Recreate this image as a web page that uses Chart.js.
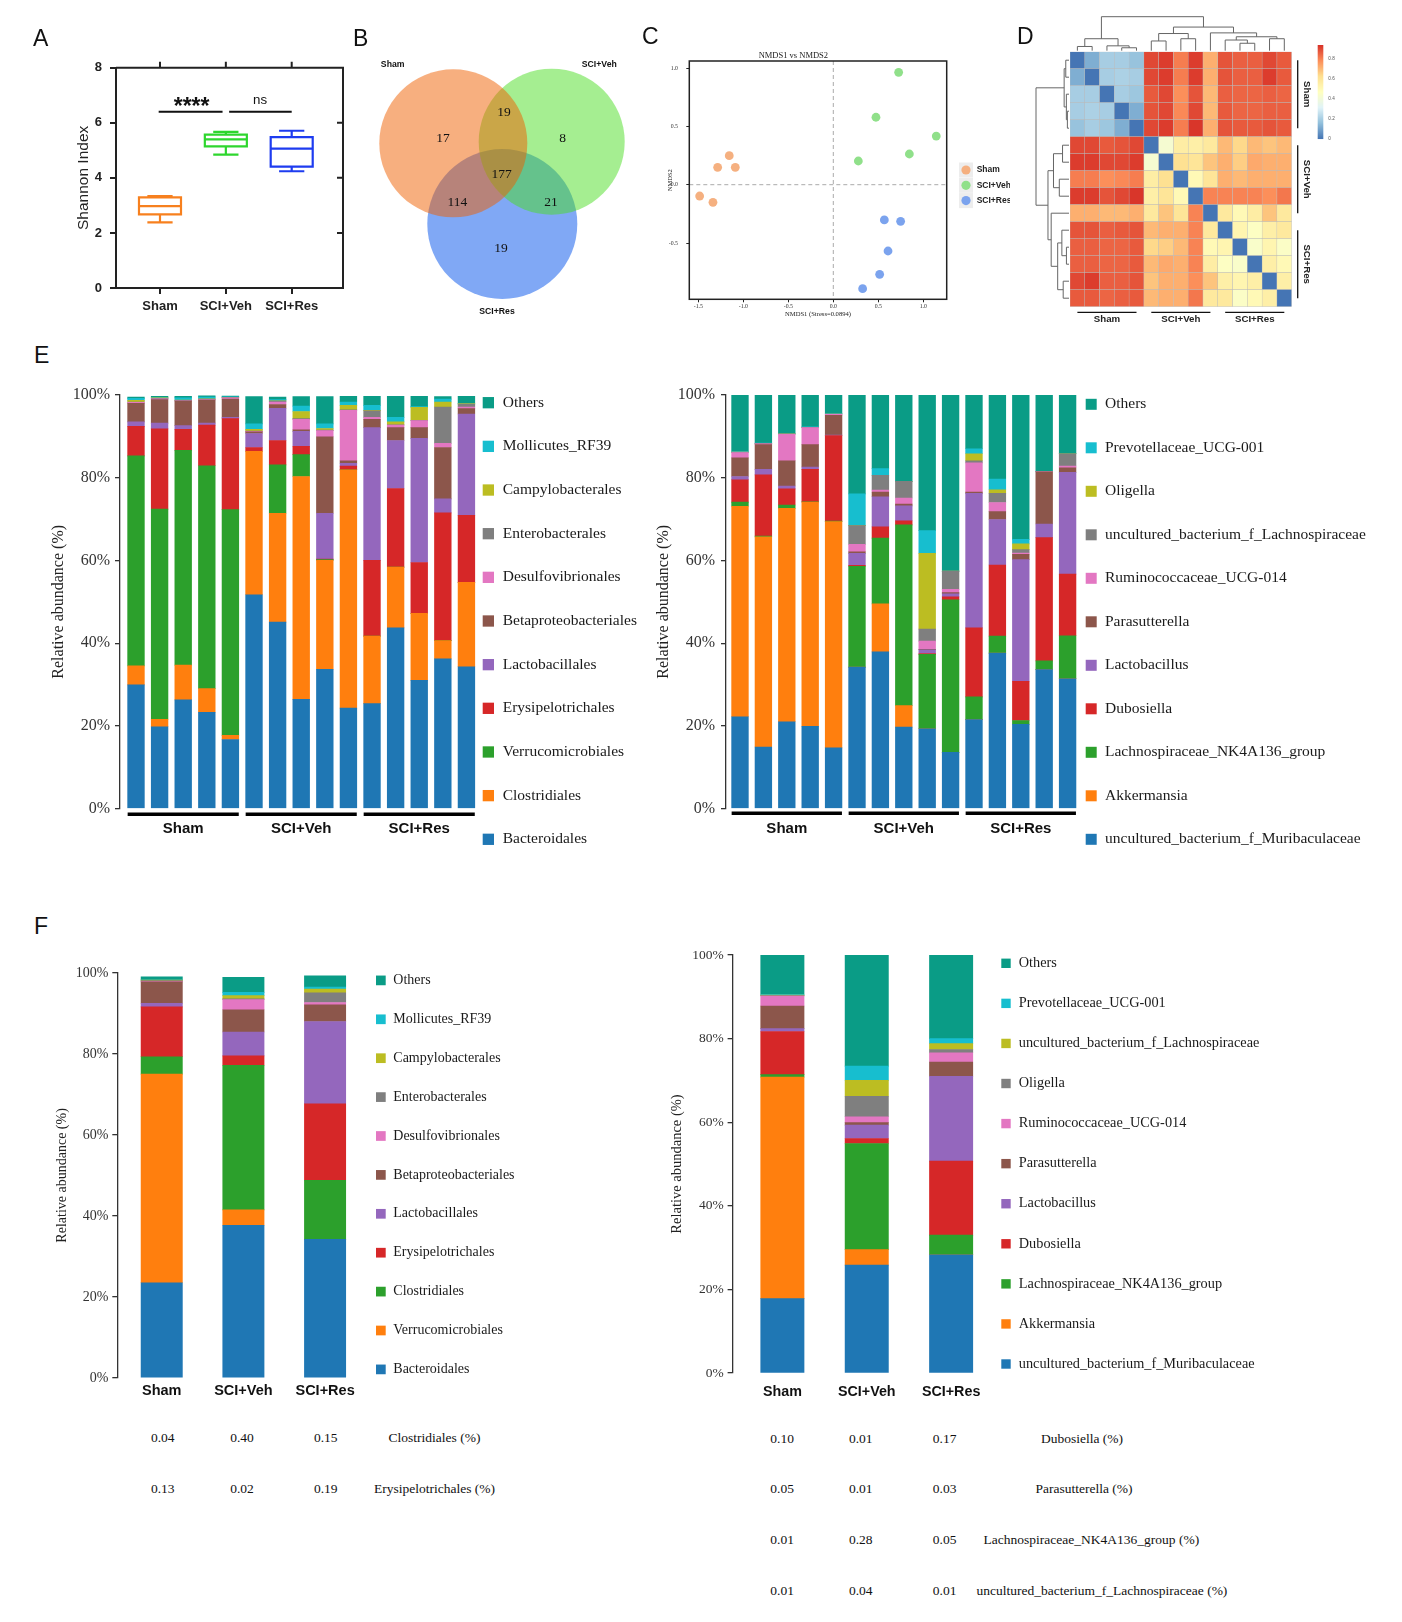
<!DOCTYPE html>
<html><head><meta charset="utf-8">
<script src="https://cdn.jsdelivr.net/npm/chart.js@4.4.1/dist/chart.umd.min.js"></script>
<style>
body{margin:0;background:#fff;}
#page{position:relative;width:1402px;height:1622px;overflow:hidden;background:#fff;}
canvas{position:absolute;}
.plab{position:absolute;font-family:'Liberation Sans',Arial,sans-serif;font-size:23px;line-height:23px;color:#111;}
.tx{position:absolute;font-family:'Liberation Serif','Times New Roman',serif;font-size:13.5px;color:#111;white-space:nowrap;transform:translate(-50%,-50%);}
</style></head>
<body><div id="page"></div>
<script>
// ================= DATA =================
// Panel A : Shannon index box plot
const groupsA = ['Sham','SCI+Veh','SCI+Res'];
const shannonMin    = [2.38, 4.84, 4.24];
const shannonQ1     = [2.67, 5.14, 4.41];
const shannonMedian = [2.97, 5.40, 5.06];
const shannonQ3     = [3.29, 5.57, 5.48];
const shannonMax    = [3.34, 5.67, 5.71];
const sigLabels = ['****','ns'];

// Panel B : Venn counts (Sham only, Veh only, Res only, Sham∩Veh, Sham∩Res, Veh∩Res, all three)
const vennSets = ['Sham','SCI+Veh','SCI+Res'];
const vennCounts = [17, 8, 19, 19, 114, 21, 177];

// Panel C : NMDS
const nmdsGroups = ['Sham','SCI+Veh','SCI+Res'];
const nmdsShamX = [-1.156, -1.285, -1.089, -1.485, -1.337];
const nmdsShamY = [0.249, 0.149, 0.149, -0.097, -0.151];
const nmdsVehX  = [0.726, 0.474, 1.144, 0.845, 0.278];
const nmdsVehY  = [0.963, 0.578, 0.417, 0.263, 0.203];
const nmdsResX  = [0.567, 0.748, 0.608, 0.515, 0.326];
const nmdsResY  = [-0.302, -0.314, -0.568, -0.768, -0.891];
const nmdsXTicks = [-1.5, -1.0, -0.5, 0.0, 0.5, 1.0];
const nmdsYTicks = [-0.5, 0.0, 0.5, 1.0];

// Panel D : sample distance heatmap
const sampleLabels = ['Sham1','Sham2','Sham3','Sham4','Sham5','Veh1','Veh2','Veh3','Veh4','Veh5','Res1','Res2','Res3','Res4','Res5'];
const distMatrix = [
 [0,.12,.2,.2,.17, .9,.92,.81,.92,.72, .88,.86,.86,.9,.87],
 [.12,0,.2,.21,.2, .9,.92,.81,.92,.72, .88,.86,.86,.92,.87],
 [.2,.2,0,.2,.18, .87,.9,.78,.88,.7, .86,.85,.85,.86,.85],
 [.2,.21,.2,0,.12, .88,.9,.79,.9,.7, .87,.85,.85,.86,.86],
 [.17,.2,.18,.12,0, .9,.92,.81,.93,.72, .88,.87,.87,.88,.87],
 [.9,.9,.87,.88,.9, 0,.42,.56,.55,.58, .7,.64,.7,.68,.7],
 [.92,.92,.9,.9,.92, .42,0,.62,.6,.68, .72,.66,.73,.72,.72],
 [.81,.81,.78,.79,.81, .56,.62,0,.5,.6, .72,.7,.72,.72,.72],
 [.92,.92,.88,.9,.93, .55,.6,.5,0,.8, .8,.8,.8,.78,.82],
 [.72,.72,.7,.7,.72, .58,.68,.6,.8,0, .58,.5,.56,.68,.58],
 [.88,.88,.86,.87,.88, .7,.72,.72,.8,.58, 0,.52,.46,.55,.58],
 [.86,.86,.85,.85,.87, .64,.66,.7,.8,.5, .52,0,.44,.52,.45],
 [.86,.86,.85,.85,.87, .7,.73,.72,.8,.56, .46,.44,0,.55,.5],
 [.9,.92,.86,.86,.88, .68,.72,.72,.78,.68, .55,.52,.55,0,.55],
 [.87,.87,.85,.86,.87, .7,.72,.72,.82,.58, .58,.45,.5,.55,0]
];
// dendrograms: [height, left, right], leaves = sample index
const colTree = [1.0,
  [0.352, [0.124, 0, 1], [0.143, 2, [0.086, 3, 4]]],
  [0.695, [0.505, [0.286, 5, 6], [0.352, 7, 8]],
          [0.524, 9, [0.41, [0.314, 10, [0.219, 11, 12]], [0.352, 13, 14]]]]];
const rowTree = [1.0,
  [0.147, [0.098, 0, 1], [0.08, 2, [0.049, 3, 4]]],
  [0.637, [0.47, [0.196, 5, 6], [0.294, 7, 8]],
          [0.54, 9, [0.343, [0.216, 10, [0.078, 11, 12]], [0.176, 13, 14]]]]];
const colorbarTicks = [0, 0.2, 0.4, 0.6, 0.8];
const sampleGroups = [{name:'Sham',from:0,to:4},{name:'SCI+Veh',from:5,to:9},{name:'SCI+Res',from:10,to:14}];

// Panel E left : order level, 15 samples
const orderNames = ['Bacteroidales','Clostridiales','Verrucomicrobiales','Erysipelotrichales','Lactobacillales','Betaproteobacteriales','Desulfovibrionales','Enterobacterales','Campylobacterales','Mollicutes_RF39','Others'];
const ordBacteroidales      = [29.9,19.8,26.3,23.3,16.7, 51.7,45.1,26.4,33.7,24.3, 25.4,43.7,31.0,36.2,34.3];
const ordClostridiales      = [4.6,1.8,8.4,5.7,1.0, 34.7,26.3,53.9,26.3,57.6, 16.3,14.7,16.2,4.4,20.4];
const ordVerrucomicrobiales = [50.8,50.8,51.9,53.9,54.6, 0,11.7,5.3,0.2,0, 0,0,0,0,0];
const ordErysipelotrichales = [7.1,19.4,5.1,9.8,22.0, 0.9,5.9,2.0,0.1,0.9, 18.3,19.0,12.3,30.9,16.2];
const ordLactobacillales    = [1.1,1.4,0.9,0.5,0.3, 3.4,7.8,3.6,11.1,0.7, 32.1,11.6,30.0,3.4,24.5];
const ordBetaproteobacteriales = [4.5,5.7,5.9,5.6,4.4, 0.4,0.9,0.4,18.5,0.6, 2.0,3.1,2.6,12.4,1.3];
const ordDesulfovibrionales = [0.2,0.2,0.1,0.1,0.3, 0.1,0.6,2.5,1.5,12.2, 0.5,0.6,1.7,1.0,0.4];
const ordEnterobacterales   = [0.1,0.1,0.1,0.1,0.05, 0.1,0.2,0.2,0.1,0.1, 1.6,0.1,0.1,8.8,0.7];
const ordCampylobacterales  = [0.4,0.1,0.1,0.1,0.1, 0.4,0.1,1.7,0.4,1.1, 0.1,0.7,3.1,1.2,0.1];
const ordMollicutes         = [0.5,0.1,0.5,0.4,0.1, 1.3,0.3,1.3,1.1,0.8, 1.2,1.1,0.2,0.7,0.1];
const ordOthers             = [0.3,0.3,0.4,0.3,0.2, 6.6,0.6,2.3,6.6,1.4, 2.2,5.1,2.5,0.6,1.7];

// Panel E right : genus level, 15 samples
const genusNames = ['uncultured_bacterium_f_Muribaculaceae','Akkermansia','Lachnospiraceae_NK4A136_group','Dubosiella','Lactobacillus','Parasutterella','Ruminococcaceae_UCG-014','uncultured_bacterium_f_Lachnospiraceae','Oligella','Prevotellaceae_UCG-001','Others'];
const genMuribaculaceae = [22.2,14.9,21.0,19.9,14.7, 34.2,37.9,19.7,19.3,13.6, 21.5,37.6,20.4,33.6,31.4];
const genAkkermansia    = [50.9,50.8,51.6,54.2,54.7, 0,11.6,5.2,0,0, 0,0,0,0,0];
const genNK4A136        = [1.0,0.2,0.8,0.1,0.1, 24.4,15.9,43.7,18.0,36.9, 5.5,4.1,0.9,2.1,10.4];
const genDubosiella     = [5.4,14.8,3.9,7.8,20.7, 0.2,2.7,1.0,0.2,0.7, 16.7,17.2,9.5,29.8,14.9];
const genLactobacillus  = [0.8,1.3,0.7,0.6,0.1, 2.9,7.3,3.6,0.9,0.7, 32.5,11.0,29.4,3.3,24.6];
const genParasutterella = [4.5,6.0,6.1,5.4,4.8, 0.4,1.1,0.4,0.1,0.3, 0.3,1.9,1.3,12.6,1.1];
const genRuminococcaceae= [1.3,0.2,6.4,4.1,0.2, 1.8,0.5,1.5,2.0,0.8, 7.1,2.2,0.3,0.1,0.4];
const genUncLachno      = [0.1,0.1,0.1,0.1,0.1, 4.5,3.6,4.0,2.9,4.4, 0.5,2.2,0.8,0,3.0];
const genOligella       = [0,0,0,0,0, 0,0,0,18.3,0, 1.7,0.9,1.4,0,0];
const genPrevotellaceae = [0.2,0.1,0.1,0.1,0.1, 7.7,1.6,0,5.5,0, 1.2,2.6,1.1,0,0];
const genOthers         = [13.6,11.6,9.3,7.7,4.5, 23.9,17.8,20.9,32.8,42.6, 13.0,20.3,34.9,18.5,14.2];

// Panel F left : order level, group means
const fOrderNames = ['Bacteroidales','Verrucomicrobiales','Clostridiales','Erysipelotrichales','Lactobacillales','Betaproteobacteriales','Desulfovibrionales','Enterobacterales','Campylobacterales','Mollicutes_RF39','Others'];
const grpBacteroidales = [23.5, 37.7, 34.2];
const grpVerruco       = [51.5, 3.8, 0];
const grpClostridiales = [4.3, 35.7, 14.6];
const grpErysip        = [12.3, 2.3, 18.9];
const grpLacto         = [0.9, 5.9, 20.3];
const grpBeta          = [5.3, 5.5, 4.1];
const grpDesulfo       = [0.1, 2.5, 0.6];
const grpEntero        = [0.2, 0.2, 2.4];
const grpCampylo       = [0.1, 0.8, 0.9];
const grpMollicutes    = [0.1, 0.8, 0.5];
const grpOrdOthers     = [0.7, 3.7, 2.8];

// Panel F right : genus level, group means
const fGenusNames = ['uncultured_bacterium_f_Muribaculaceae','Akkermansia','Lachnospiraceae_NK4A136_group','Dubosiella','Lactobacillus','Parasutterella','Ruminococcaceae_UCG-014','Oligella','uncultured_bacterium_f_Lachnospiraceae','Prevotellaceae_UCG-001','Others'];
const grpMuri      = [17.8, 25.8, 28.3];
const grpAkk       = [53.0, 3.7, 0];
const grpNK        = [0.6, 25.4, 4.7];
const grpDubo      = [10.3, 1.2, 17.7];
const grpLactobac  = [0.7, 3.2, 20.3];
const grpPara      = [5.4, 0.6, 3.4];
const grpRumino    = [2.4, 1.4, 2.2];
const grpOligella  = [0.1, 4.9, 0.8];
const grpUncLachno = [0.1, 3.8, 1.4];
const grpPrevo     = [0.2, 3.4, 1.2];
const grpGenOthers = [9.4, 26.6, 20.0];

// tables under F
const tableLeftLabels  = ['Clostridiales (%)','Erysipelotrichales (%)'];
const tableLeftValues  = [['0.04','0.40','0.15'],['0.13','0.02','0.19']];
const tableRightLabels = ['Dubosiella (%)','Parasutterella (%)','Lachnospiraceae_NK4A136_group (%)','uncultured_bacterium_f_Lachnospiraceae (%)'];
const tableRightValues = [['0.10','0.01','0.17'],['0.05','0.01','0.03'],['0.01','0.28','0.05'],['0.01','0.04','0.01']];

// ================= STYLE =================
const SANS = "'Liberation Sans', Arial, sans-serif";
const SERIF = "'Liberation Serif', 'Times New Roman', serif";
const C10 = ['#1F77B4','#FF7F0E','#2CA02C','#D62728','#9467BD','#8C564B','#E377C2','#7F7F7F','#BCBD22','#17BECF','#0A9C86'];
const boxColorsA = ['#F7801E','#2ED62E','#1E3CF0'];
const vennColors = ['rgba(239,95,0,0.5)','rgba(75,221,35,0.5)','rgba(1,81,235,0.5)'];
const nmdsColors = ['#F5B080','#90E08A','#7BA3EE'];
const heatStops = ['#4575B4','#91BFDB','#E0F3F8','#FFFFBF','#FEE090','#FC8D59','#D73027'];
const heatMax = 0.94;

Chart.defaults.animation = false;
Chart.defaults.responsive = false;
Chart.defaults.maintainAspectRatio = false;
Chart.defaults.devicePixelRatio = 1;
Chart.defaults.events = [];
Chart.defaults.plugins.legend.display = false;
Chart.defaults.plugins.tooltip.enabled = false;
Chart.defaults.font.family = SANS;

const page = document.getElementById('page');
function addCanvas(left, top, w, h) {
  const c = document.createElement('canvas');
  c.width = w; c.height = h;
  c.style.left = left + 'px'; c.style.top = top + 'px';
  c.style.width = w + 'px'; c.style.height = h + 'px';
  page.appendChild(c);
  return c;
}
function addDiv(cls, text, x, y) {
  const d = document.createElement('div');
  d.className = cls; d.textContent = text;
  d.style.left = x + 'px'; d.style.top = y + 'px';
  page.appendChild(d);
  return d;
}

// ================= PANEL A =================
function boxSegments(i) {
  const w = 0.319, c = 0.175, g = [];
  const seg = pts => { pts.forEach(p => g.push(p)); g.push({x: i, y: null}); };
  const q1 = shannonQ1[i], q3 = shannonQ3[i], md = shannonMedian[i];
  seg([{x:i-w,y:q1},{x:i+w,y:q1},{x:i+w,y:q3},{x:i-w,y:q3},{x:i-w,y:q1}]);
  seg([{x:i-w,y:md},{x:i+w,y:md}]);
  seg([{x:i,y:q3},{x:i,y:shannonMax[i]}]);
  seg([{x:i-c,y:shannonMax[i]},{x:i+c,y:shannonMax[i]}]);
  seg([{x:i,y:q1},{x:i,y:shannonMin[i]}]);
  seg([{x:i-c,y:shannonMin[i]},{x:i+c,y:shannonMin[i]}]);
  return g;
}
const sigY = 6.4;
const sigSpans = [[-0.02, 0.95], [1.05, 2.0]];
const sigLabelX = [0.48, 1.52];
const sigLineData = [];
sigSpans.forEach(s => { sigLineData.push({x:s[0],y:sigY},{x:s[1],y:sigY},{x:s[1],y:null}); });

const panelAPlugin = {
  id: 'panelA',
  afterDraw(ch) {
    const {ctx, chartArea: a, scales: {x, y}} = ch;
    ctx.save();
    ctx.strokeStyle = '#222'; ctx.lineWidth = 2;
    ctx.beginPath();
    ctx.moveTo(a.left, a.top); ctx.lineTo(a.right, a.top); ctx.lineTo(a.right, a.bottom);
    groupsA.forEach((g, i) => { const px = x.getPixelForValue(i); ctx.moveTo(px, a.top); ctx.lineTo(px, a.top - 6); });
    [2, 4, 6].forEach(v => { const py = y.getPixelForValue(v); ctx.moveTo(a.right, py); ctx.lineTo(a.right - 6, py); });
    ctx.stroke();
    const ly = y.getPixelForValue(sigY);
    ctx.fillStyle = '#111'; ctx.textAlign = 'center'; ctx.textBaseline = 'alphabetic';
    ctx.font = `bold 23px ${SANS}`;
    ctx.fillText(sigLabels[0], x.getPixelForValue(sigLabelX[0]), ly + 2);
    ctx.font = `13.3px ${SANS}`;
    ctx.fillText(sigLabels[1], x.getPixelForValue(sigLabelX[1]), ly - 7.7);
    ctx.restore();
  }
};
new Chart(addCanvas(30, 40, 330, 290), {
  type: 'scatter',
  data: { datasets: [
    ...groupsA.map((g, i) => ({ label: g, data: boxSegments(i), showLine: true, spanGaps: false,
      borderColor: boxColorsA[i], borderWidth: 2.2, pointRadius: 0, borderCapStyle: 'square', borderJoinStyle: 'miter', tension: 0 })),
    { label: 'sig', data: sigLineData, showLine: true, spanGaps: false, borderColor: '#111', borderWidth: 2, pointRadius: 0 }
  ]},
  options: {
    layout: { padding: { left: 0, top: 27.7, right: 17, bottom: 0 } },
    scales: {
      x: { type: 'linear', min: -0.668, max: 2.779,
        afterBuildTicks: s => { s.ticks = groupsA.map((_, i) => ({ value: i })); },
        afterFit: s => { s.height = 42; },
        ticks: { callback: v => groupsA[v], autoSkip: false, maxRotation: 0, font: { family: SANS, size: 13, weight: 'bold' }, color: '#222', padding: 4.9 },
        grid: { drawOnChartArea: false, tickLength: 6, color: '#222', lineWidth: 2 },
        border: { color: '#222', width: 2 } },
      y: { min: 0, max: 8,
        afterFit: s => { s.width = 86; },
        ticks: { stepSize: 2, font: { family: SANS, size: 13, weight: 'bold' }, color: '#222', padding: 8 },
        grid: { drawOnChartArea: false, tickLength: 6, color: '#222', lineWidth: 2 },
        border: { color: '#222', width: 2 },
        title: { display: true, text: 'Shannon Index', font: { family: SANS, size: 15.5 }, color: '#222', padding: { top: 44.7, bottom: 0 } } }
    }
  },
  plugins: [panelAPlugin]
});

// ================= PANEL B (Venn) =================
const vennCircles = [{x:103.3,y:103.3,r:74},{x:201.7,y:101.7,r:73},{x:152.3,y:184,r:75}];
const vennCountPos = [[93,98],[212.7,98],[151,208.3],[154,72.7],[107.3,162.7],[201,162.7],[151.7,134]];
const vennSetPos = [[42.7,24.3],[249.3,24.3],[147,271.7]];
const vennPlugin = {
  id: 'venn',
  afterDatasetsDraw(ch) {
    const {ctx, scales: {x, y}} = ch;
    ctx.save();
    ctx.fillStyle = '#111'; ctx.textAlign = 'center'; ctx.textBaseline = 'middle';
    ctx.font = `13.5px ${SERIF}`;
    vennCounts.forEach((c, k) => ctx.fillText(String(c), x.getPixelForValue(vennCountPos[k][0]), y.getPixelForValue(vennCountPos[k][1])));
    ctx.font = `bold 8.7px ${SANS}`;
    vennSets.forEach((s, k) => ctx.fillText(s, x.getPixelForValue(vennSetPos[k][0]), y.getPixelForValue(vennSetPos[k][1])));
    ctx.restore();
  }
};
new Chart(addCanvas(350, 40, 300, 290), {
  type: 'bubble',
  data: { datasets: vennSets.map((s, i) => ({ label: s, data: [vennCircles[i]], backgroundColor: vennColors[i], borderWidth: 0, clip: false })) },
  options: {
    layout: { padding: 0, autoPadding: false },
    scales: { x: { type: 'linear', min: 0, max: 300, display: false }, y: { type: 'linear', min: 0, max: 290, reverse: true, display: false } }
  },
  plugins: [vennPlugin]
});

// ================= PANEL C (NMDS) =================
const nmdsX = [nmdsShamX, nmdsVehX, nmdsResX];
const nmdsY = [nmdsShamY, nmdsVehY, nmdsResY];
const nmdsPlugin = {
  id: 'nmds',
  beforeDatasetsDraw(ch) {
    const {ctx, chartArea: a, scales: {x, y}} = ch;
    ctx.save();
    ctx.strokeStyle = '#AAAAAA'; ctx.lineWidth = 1; ctx.setLineDash([4, 3]);
    const x0 = x.getPixelForValue(0), y0 = y.getPixelForValue(0);
    ctx.beginPath(); ctx.moveTo(x0, a.top); ctx.lineTo(x0, a.bottom); ctx.moveTo(a.left, y0); ctx.lineTo(a.right, y0); ctx.stroke();
    ctx.restore();
  },
  afterDraw(ch) {
    const {ctx, chartArea: a} = ch;
    ctx.save();
    ctx.strokeStyle = '#222'; ctx.lineWidth = 1.5;
    ctx.strokeRect(a.left, a.top, a.right - a.left, a.bottom - a.top);
    nmdsGroups.forEach((g, k) => {
      const cx = a.right + 19.3, cy = a.top + 109 + k * 15.3;
      ctx.fillStyle = '#EDEDED'; ctx.fillRect(cx - 7, cy - 7.5, 14, 15);
      ctx.fillStyle = nmdsColors[k]; ctx.beginPath(); ctx.arc(cx, cy, 4.6, 0, Math.PI * 2); ctx.fill();
      ctx.fillStyle = '#222'; ctx.font = `bold 8.5px ${SANS}`; ctx.textAlign = 'left'; ctx.textBaseline = 'middle';
      ctx.fillText(g, a.right + 30, cy);
    });
    ctx.restore();
  }
};
new Chart(addCanvas(640, 40, 370, 290), {
  type: 'scatter',
  data: { datasets: nmdsGroups.map((g, k) => ({ label: g, data: nmdsX[k].map((v, i) => ({ x: v, y: nmdsY[k][i] })), backgroundColor: nmdsColors[k], borderWidth: 0, pointRadius: 4.4 })) },
  options: {
    layout: { padding: { left: 0, top: 0, right: 63.3, bottom: 0 } },
    plugins: { title: { display: true, text: 'NMDS1 vs NMDS2', font: { family: SERIF, size: 8.5, weight: 'normal' }, color: '#222', padding: { top: 10.8, bottom: 0 } } },
    scales: {
      x: { type: 'linear', min: -1.6, max: 1.26,
        afterBuildTicks: s => { s.ticks = nmdsXTicks.map(v => ({ value: v })); },
        afterFit: s => { s.height = 30.7; },
        ticks: { callback: v => v.toFixed(1), font: { family: SERIF, size: 5.8 }, color: '#333', padding: 0.5, autoSkip: false, maxRotation: 0 },
        grid: { drawOnChartArea: false, tickLength: 3, color: '#222', lineWidth: 1 },
        border: { display: false },
        title: { display: true, text: 'NMDS1 (Stress=0.0894)', font: { family: SERIF, size: 6.6 }, color: '#222', padding: { top: 0, bottom: 12 } } },
      y: { type: 'linear', min: -0.982, max: 1.06,
        afterBuildTicks: s => { s.ticks = nmdsYTicks.map(v => ({ value: v })); },
        afterFit: s => { s.width = 49.3; },
        ticks: { callback: v => v.toFixed(1), font: { family: SERIF, size: 5.8 }, color: '#333', padding: 8.3, autoSkip: false },
        grid: { drawOnChartArea: false, tickLength: 3, color: '#222', lineWidth: 1 },
        border: { display: false },
        title: { display: true, text: 'NMDS2', font: { family: SERIF, size: 6.5 }, color: '#222', padding: { top: 26.1, bottom: 0 } } }
    }
  },
  plugins: [nmdsPlugin]
});

// ================= PANEL D (heatmap) =================
const heatRgb = heatStops.map(h => [parseInt(h.slice(1,3),16), parseInt(h.slice(3,5),16), parseInt(h.slice(5,7),16)]);
function heatColor(v) {
  const t = Math.max(0, Math.min(1, v / heatMax)) * (heatRgb.length - 1);
  const i = Math.min(Math.floor(t), heatRgb.length - 2), f = t - i;
  const c = heatRgb[i].map((c0, j) => Math.round(c0 + (heatRgb[i + 1][j] - c0) * f));
  return `rgb(${c[0]},${c[1]},${c[2]})`;
}
const N = sampleLabels.length;
const heatPlugin = {
  id: 'heatExtras',
  afterDraw(ch) {
    const {ctx, chartArea: a, scales: {x, y}} = ch;
    const colPos = i => x.getPixelForValue(i);
    const rowPos = i => y.getPixelForValue(N - i - 0.5);
    ctx.save();
    ctx.strokeStyle = '#666'; ctx.lineWidth = 1;
    function tree(node, orient) {
      if (typeof node === 'number') return { p: orient === 'top' ? colPos(node) : rowPos(node), h: 0 };
      const [hh, l, r] = node;
      const A = tree(l, orient), B = tree(r, orient);
      ctx.beginPath();
      if (orient === 'top') {
        const f = v => a.top - 1 - v * 34;
        ctx.moveTo(A.p, f(A.h)); ctx.lineTo(A.p, f(hh)); ctx.lineTo(B.p, f(hh)); ctx.lineTo(B.p, f(B.h));
      } else {
        const f = v => a.left - 1 - v * 33;
        ctx.moveTo(f(A.h), A.p); ctx.lineTo(f(hh), A.p); ctx.lineTo(f(hh), B.p); ctx.lineTo(f(B.h), B.p);
      }
      ctx.stroke();
      return { p: (A.p + B.p) / 2, h: hh };
    }
    tree(colTree, 'top'); tree(rowTree, 'left');
    // group annotations
    ctx.strokeStyle = '#111'; ctx.lineWidth = 1.3; ctx.fillStyle = '#222';
    ctx.font = `bold 9.7px ${SANS}`; ctx.textAlign = 'center'; ctx.textBaseline = 'middle';
    sampleGroups.forEach(g => {
      const x1 = colPos(g.from), x2 = colPos(g.to), ly = a.bottom + 5.6;
      ctx.beginPath(); ctx.moveTo(x1, ly); ctx.lineTo(x2, ly); ctx.stroke();
      ctx.fillText(g.name, (x1 + x2) / 2, a.bottom + 12.8);
      const y1 = rowPos(g.from), y2 = rowPos(g.to), lx = a.right + 6;
      ctx.beginPath(); ctx.moveTo(lx, y1); ctx.lineTo(lx, y2); ctx.stroke();
      ctx.save(); ctx.translate(a.right + 14.5, (y1 + y2) / 2); ctx.rotate(Math.PI / 2);
      ctx.fillText(g.name, 0, 0); ctx.restore();
    });
    // colour bar
    const cbX = a.right + 26, cbW = 5.6, cbTop = 45, cbBot = 139;
    for (let py = cbTop; py < cbBot; py++) {
      ctx.fillStyle = heatColor((cbBot - py - 0.5) / (cbBot - cbTop) * heatMax);
      ctx.fillRect(cbX, py, cbW, 1.05);
    }
    ctx.fillStyle = '#555'; ctx.font = `4.6px ${SANS}`; ctx.textAlign = 'left';
    colorbarTicks.forEach(v => ctx.fillText(String(v), cbX + cbW + 5, cbBot - v / heatMax * (cbBot - cbTop)));
    ctx.restore();
  }
};
const heatDatasets = [];
for (let r = N - 1; r >= 0; r--) {
  heatDatasets.push({ label: sampleLabels[r], data: distMatrix[r].map(() => 1), backgroundColor: distMatrix[r].map(heatColor),
    borderColor: 'rgba(185,185,185,0.9)', borderWidth: 0.5, borderSkipped: false, barPercentage: 1, categoryPercentage: 1, stack: 'hm' });
}
new Chart(addCanvas(1000, 0, 402, 330), {
  type: 'bar',
  data: { labels: sampleLabels, datasets: heatDatasets },
  options: {
    layout: { padding: { left: 70, right: 110.3, top: 51.7, bottom: 23.3 } },
    scales: { x: { stacked: true, display: false }, y: { stacked: true, min: 0, max: N, display: false } }
  },
  plugins: [heatPlugin]
});

// ================= PANELS E & F (stacked bars) =================
function stackedChart(spec) {
  const { left, top, w, h, area, xMin, xMax, barThickness, names, colors, series, tickSize, titleSize, titlePad, tickPad, tickLen, xLabels, xLabelSize, xLabelPad, legend, groups } = spec;
  const datasets = series.map((vals, k) => ({
    label: names[k], data: vals.map((v, i) => ({ x: i, y: v })), backgroundColor: colors[k], borderWidth: 0, barThickness: barThickness, stack: 's'
  }));
  const extras = {
    id: 'legendGroups',
    afterDraw(ch) {
      const { ctx, chartArea: a, scales: { x } } = ch;
      ctx.save();
      ctx.font = `${legend.size}px ${SERIF}`; ctx.textBaseline = 'middle'; ctx.textAlign = 'left';
      for (let k = names.length - 1, row = 0; k >= 0; k--, row++) {
        const yy = a.top + legend.first + row * legend.gap, bx = a.right + legend.dx;
        ctx.fillStyle = colors[k]; ctx.fillRect(bx, yy - legend.box / 2, legend.box, legend.box);
        ctx.fillStyle = '#1a1a1a'; ctx.fillText(names[k], bx + legend.textDx, yy);
      }
      if (groups) {
        ctx.strokeStyle = '#000'; ctx.lineWidth = 3.4; ctx.fillStyle = '#111';
        ctx.font = `bold 15px ${SANS}`; ctx.textAlign = 'center';
        groups.forEach(g => {
          const x1 = x.getPixelForValue(g.from) - barThickness / 2, x2 = x.getPixelForValue(g.to) + barThickness / 2;
          const ly = a.bottom + spec.groupLineDy;
          ctx.beginPath(); ctx.moveTo(x1, ly); ctx.lineTo(x2, ly); ctx.stroke();
          ctx.fillText(g.name, (x1 + x2) / 2, a.bottom + spec.groupTextDy);
        });
      }
      ctx.restore();
    }
  };
  new Chart(addCanvas(left, top, w, h), {
    type: 'bar',
    data: { datasets },
    options: {
      layout: { padding: { left: 0, top: area.top, right: w - area.right, bottom: xLabels ? 0 : h - area.bottom } },
      scales: {
        x: { type: 'linear', min: xMin, max: xMax, offset: false, stacked: true, display: !!xLabels,
          afterBuildTicks: s => { s.ticks = series[0].map((_, i) => ({ value: i })); },
          afterFit: s => { s.height = h - area.bottom; },
          ticks: { callback: v => (xLabels ? xLabels[v] : ''), autoSkip: false, maxRotation: 0, font: { family: SANS, size: xLabelSize || 14, weight: 'bold' }, color: '#111', padding: xLabelPad || 0 },
          grid: { display: false, drawTicks: false, offset: false }, border: { display: false } },
        y: { stacked: true, min: 0, max: 100,
          afterFit: s => { s.width = area.left; },
          ticks: { stepSize: 20, callback: v => v + '%', font: { family: SERIF, size: tickSize }, color: '#333', padding: tickPad },
          grid: { drawOnChartArea: false, tickLength: tickLen, color: '#333', lineWidth: 1.3 },
          border: { display: true, color: '#333', width: 1.3 },
          title: { display: true, text: 'Relative abundance (%)', font: { family: SERIF, size: titleSize }, color: '#222', padding: { top: titlePad, bottom: 0 } } }
      }
    },
    plugins: [extras]
  });
}

stackedChart({
  left: 40, top: 370, w: 620, h: 520, area: { left: 80, top: 25, right: 438, bottom: 479.3 },
  xMin: -0.678, xMax: 14.49, barThickness: 16.7,
  names: orderNames, colors: C10,
  series: [ordBacteroidales, ordClostridiales, ordVerrucomicrobiales, ordErysipelotrichales, ordLactobacillales, ordBetaproteobacteriales, ordDesulfovibrionales, ordEnterobacterales, ordCampylobacterales, ordMollicutes, ordOthers],
  tickSize: 16, titleSize: 16, titlePad: 8.7, tickPad: 5, tickLen: 5,
  legend: { dx: 4.7, first: 7.7, gap: 43.66, box: 11.3, textDx: 20, size: 15.5 },
  groups: sampleGroups, groupLineDy: 5.7, groupTextDy: 20
});
stackedChart({
  left: 640, top: 370, w: 762, h: 520, area: { left: 86, top: 25, right: 440, bottom: 479.3 },
  xMin: -0.598, xMax: 14.53, barThickness: 16.7,
  names: genusNames, colors: C10,
  series: [genMuribaculaceae, genAkkermansia, genNK4A136, genDubosiella, genLactobacillus, genParasutterella, genRuminococcaceae, genUncLachno, genOligella, genPrevotellaceae, genOthers],
  tickSize: 16, titleSize: 16, titlePad: 13.7, tickPad: 6, tickLen: 5,
  legend: { dx: 5.7, first: 9.3, gap: 43.5, box: 11, textDx: 19.3, size: 15.5 },
  groups: sampleGroups, groupLineDy: 4.7, groupTextDy: 20
});
stackedChart({
  left: 40, top: 940, w: 620, h: 470, area: { left: 77.3, top: 32.9, right: 330, bottom: 437.9 },
  xMin: -0.544, xMax: 2.55, barThickness: 41.3,
  names: fOrderNames, colors: C10,
  series: [grpBacteroidales, grpVerruco, grpClostridiales, grpErysip, grpLacto, grpBeta, grpDesulfo, grpEntero, grpCampylo, grpMollicutes, grpOrdOthers],
  tickSize: 14, titleSize: 14, titlePad: 14.3, tickPad: 4, tickLen: 5,
  xLabels: groupsA, xLabelSize: 14.5, xLabelPad: 4.3,
  legend: { dx: 6, first: 7.5, gap: 38.9, box: 9.7, textDx: 17.3, size: 14 }
});
stackedChart({
  left: 650, top: 920, w: 752, h: 490, area: { left: 82.6, top: 35, right: 345, bottom: 453 },
  xMin: -0.59, xMax: 2.52, barThickness: 43.3,
  names: fGenusNames, colors: C10,
  series: [grpMuri, grpAkk, grpNK, grpDubo, grpLactobac, grpPara, grpRumino, grpOligella, grpUncLachno, grpPrevo, grpGenOthers],
  tickSize: 13.5, titleSize: 14.5, titlePad: 18.1, tickPad: 3.9, tickLen: 5,
  xLabels: groupsA, xLabelSize: 14.3, xLabelPad: 10.1,
  legend: { dx: 6.3, first: 8.3, gap: 40.07, box: 9.4, textDx: 17.5, size: 14.3 }
});

// ================= TEXT (panel letters, tables) =================
[['A',33,27],['B',353,27],['C',642,25],['D',1017,25],['E',34,344],['F',34,915]].forEach(p => addDiv('plab', p[0], p[1], p[2]));
const tlX = [162.7, 242, 325.7], tlY = [1438.2, 1489.3];
tableLeftLabels.forEach((lab, r) => {
  tableLeftValues[r].forEach((v, c) => addDiv('tx', v, tlX[c], tlY[r]));
  addDiv('tx', lab, 434.5, tlY[r]);
});
const trX = [782.1, 860.7, 944.6], trY = [1439, 1489.3, 1540, 1590.7], trLabX = [1082, 1084, 1091.4, 1102];
tableRightLabels.forEach((lab, r) => {
  tableRightValues[r].forEach((v, c) => addDiv('tx', v, trX[c], trY[r]));
  addDiv('tx', lab, trLabX[r], trY[r]);
});
</script>
</body></html>
